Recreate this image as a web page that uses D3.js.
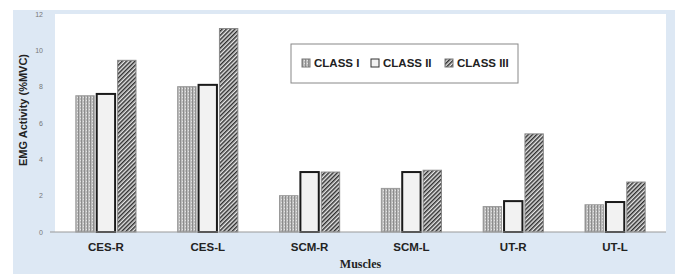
<html lang="en">
  <head>
    <meta charset="UTF-8" />
    <title>EMG activity by muscle</title>
    <script src="https://d3js.org/d3.v7.min.js"></script>
  </head>
  <style>
    body {
      margin: 0px;
      overflow: hidden;
      background: #fff;
    }
  </style>
  <body>
    <svg width="677" height="274"></svg>
  </body>
  <footer>
    <script>
      var muscles = ["CES-R", "CES-L", "SCM-R", "SCM-L", "UT-R", "UT-L"];
      var classes = ["CLASS I", "CLASS II", "CLASS III"];
      var class1 = [7.5, 8.0, 2.0, 2.4, 1.4, 1.5];
      var class2 = [7.6, 8.1, 3.3, 3.3, 1.7, 1.65];
      var class3 = [9.45, 11.2, 3.3, 3.4, 5.4, 2.75];
      var yTicks = [0, 2, 4, 6, 8, 10, 12];

      var series = [class1, class2, class3];
      var rows = [];
      muscles.forEach(function (m, i) {
        classes.forEach(function (c, j) {
          rows.push({ muscle: m, cls: c, k: j, value: series[j][i] });
        });
      });

      var svg = d3.select("svg");
      var margin = { left: 55, top: 14, right: 11, bottom: 42 };
      var width = 677;
      var height = 274;

      // light blue frame behind a white plot area
      svg.append("rect")
        .attr("x", 13).attr("y", 10)
        .attr("width", 662).attr("height", 264)
        .attr("fill", "#dde8f4");
      svg.append("rect")
        .attr("x", margin.left).attr("y", margin.top)
        .attr("width", width - margin.left - margin.right)
        .attr("height", height - margin.bottom - margin.top)
        .attr("fill", "#fff");

      var defs = svg.append("defs");
      // class I: grey with vertical stripes
      var p1 = defs.append("pattern")
        .attr("id", "pat1").attr("patternUnits", "userSpaceOnUse")
        .attr("width", 3).attr("height", 3);
      p1.append("rect").attr("width", 3).attr("height", 3).attr("fill", "#bcbcbc");
      p1.append("rect").attr("x", 0).attr("width", 1).attr("height", 3).attr("fill", "#8c8c8c");
      p1.append("rect").attr("x", 2).attr("y", 1).attr("width", 1).attr("height", 1).attr("fill", "#e4e4e4");
      // class III: diagonal hatch
      var p3 = defs.append("pattern")
        .attr("id", "pat3").attr("patternUnits", "userSpaceOnUse")
        .attr("width", 3).attr("height", 3)
        .attr("patternTransform", "rotate(-45)");
      p3.append("rect").attr("width", 3).attr("height", 3).attr("fill", "#e6e6e6");
      p3.append("rect").attr("width", 3).attr("height", 1.5).attr("fill", "#303030");

      var fills = ["url(#pat1)", "#f2f2f2", "url(#pat3)"];
      var strokes = ["#999", "#1a1a1a", "#888"];
      var strokeW = [1, 2, 1];

      var x0 = d3.scaleBand()
        .domain(muscles)
        .range([margin.left, width - margin.right])
        .paddingInner(0.36)
        .paddingOuter(0.18);
      var x1 = d3.scaleBand()
        .domain(classes)
        .range([0, x0.bandwidth()])
        .padding(0.12);
      var y = d3.scaleLinear()
        .domain([0, 12])
        .range([height - margin.bottom, margin.top]);

      // y axis labels
      var yAxis = svg.append("g")
        .attr("transform", "translate(" + margin.left + ",0)")
        .call(d3.axisLeft(y).tickValues(yTicks).tickSize(0).tickPadding(12));
      yAxis.select(".domain").remove();
      yAxis.selectAll("text")
        .attr("fill", "#777")
        .style("font-family", "Liberation Sans")
        .style("font-size", "7px");

      svg.append("g")
        .selectAll("rect")
        .data(rows)
        .enter()
        .append("rect")
        .attr("x", function (d) { return x0(d.muscle) + x1(d.cls); })
        .attr("y", function (d) { return y(d.value); })
        .attr("width", x1.bandwidth())
        .attr("height", function (d) { return y(0) - y(d.value); })
        .attr("fill", function (d) { return fills[d.k]; })
        .attr("stroke", function (d) { return strokes[d.k]; })
        .attr("stroke-width", function (d) { return strokeW[d.k]; });

      // baseline
      var xAxis = svg.append("g")
        .attr("transform", "translate(0," + y(0) + ")")
        .call(d3.axisBottom(x0).tickSize(0).tickPadding(11));
      xAxis.select(".domain")
        .attr("stroke", "#999")
        .attr("d", "M" + (margin.left - 5) + ",0H" + (width - margin.right));
      xAxis.selectAll("text")
        .attr("fill", "#222")
        .style("font-family", "Liberation Sans")
        .style("font-weight", "bold")
        .style("font-size", "11.5px");

      svg.append("text")
        .attr("x", (margin.left + width - margin.right) / 2)
        .attr("y", 268)
        .attr("text-anchor", "middle")
        .style("font-family", "Liberation Serif")
        .style("font-weight", "bold")
        .style("font-size", "12px")
        .attr("fill", "#222")
        .text("Muscles");

      svg.append("text")
        .attr("transform", "translate(27,110) rotate(-90)")
        .attr("text-anchor", "middle")
        .style("font-family", "Liberation Sans")
        .style("font-weight", "bold")
        .style("font-size", "11px")
        .attr("fill", "#222")
        .text("EMG Activity (%MVC)");

      // legend
      var legend = svg.append("g").attr("transform", "translate(291,44)");
      legend.append("rect")
        .attr("width", 227).attr("height", 39)
        .attr("fill", "#fff").attr("stroke", "#888").attr("stroke-width", 1);
      var lx = [11, 80, 154];
      classes.forEach(function (c, j) {
        var g = legend.append("g").attr("transform", "translate(" + lx[j] + ",15)");
        g.append("rect")
          .attr("width", 8).attr("height", 8)
          .attr("fill", fills[j])
          .attr("stroke", j === 1 ? "#333" : "#777")
          .attr("stroke-width", 1);
        g.append("text")
          .attr("x", 12).attr("y", 8)
          .style("font-family", "Liberation Sans")
          .style("font-weight", "bold")
          .style("font-size", "11.5px")
          .attr("fill", "#222")
          .text(c);
      });
    </script>
  </footer>
</html>
